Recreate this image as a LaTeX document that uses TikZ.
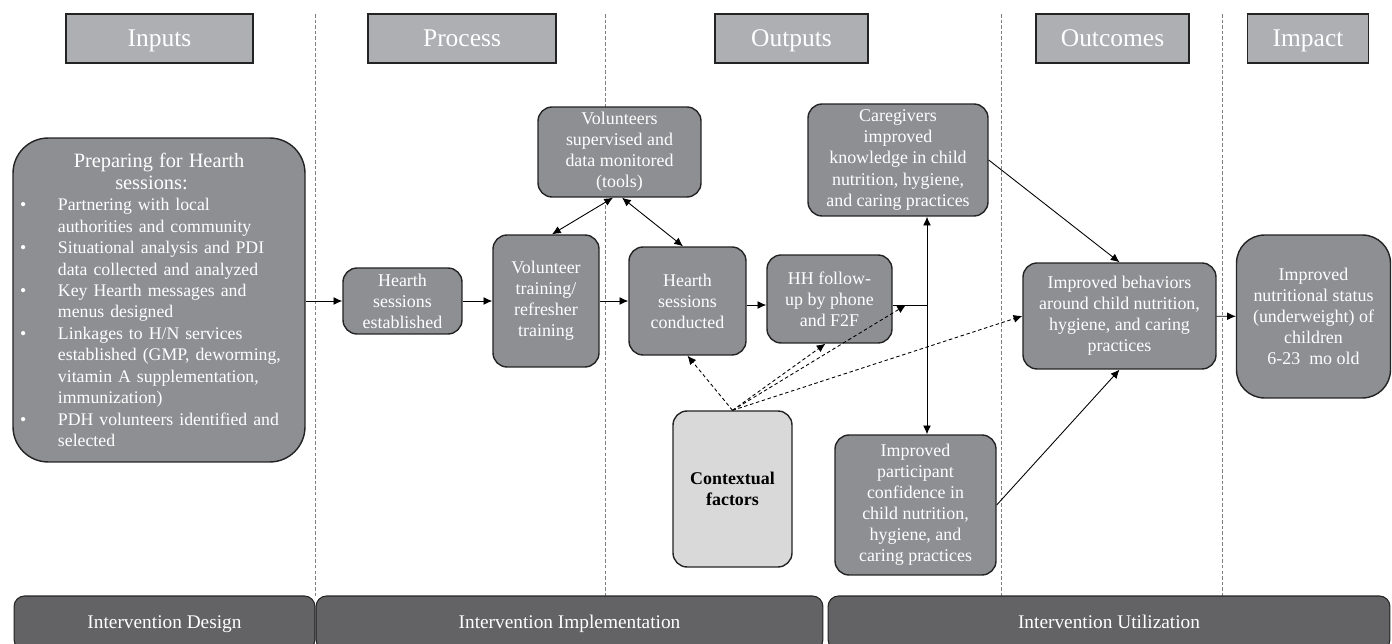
\documentclass[tikz,border=0pt]{standalone}
\usepackage{fontspec}
\setmainfont{Liberation Serif}
\usepackage{enumitem}
\usetikzlibrary{arrows.meta}

\definecolor{boxgray}{RGB}{142,143,147}
\definecolor{hdrgray}{RGB}{174,175,179}
\definecolor{bargray}{RGB}{99,99,102}
\definecolor{ctxgray}{RGB}{217,217,217}
\definecolor{edge}{RGB}{35,35,35}

\begin{document}
\begin{tikzpicture}[x=0.02cm, y=-0.02cm, >={Latex[length=5pt,width=4.5pt]},
    box/.style={draw=edge, line width=0.8pt, fill=boxgray, text=white, rounded corners=8pt,
        inner sep=0pt, align=center, font=\fontsize{10.2}{12}\selectfont},
    hdr/.style={draw=edge, line width=0.8pt, fill=hdrgray, text=white, inner sep=0pt,
        minimum width=#1, minimum height=0.98cm, text height=2.2ex, text depth=0.3ex,
        font=\fontsize{14.5}{16}\selectfont},
    bar/.style={draw=edge, line width=0.6pt, fill=bargray, text=white, rounded corners=6pt,
        minimum width=#1, minimum height=1.08cm, text height=1.7ex, text depth=0.3ex,
        font=\fontsize{11}{13}\selectfont},
    sep/.style={gray, line width=0.5pt, dash pattern=on 2pt off 1.2pt},
    flow/.style={->, line width=0.5pt},
    infl/.style={->, line width=0.5pt, dash pattern=on 2pt off 1.5pt}]
    \useasboundingbox (0,0) rectangle (1392,644);
    \clip (0,0) rectangle (1392,644);

    \foreach \xs in {315, 605, 1001, 1222}
        \draw[sep] (\xs,14) -- (\xs,596);

    \node[hdr=3.74cm] (hin) at (159.5, 38.5) {Inputs};
    \node[hdr=3.76cm] (hproc) at (462, 38.5) {Process};
    \node[hdr=3.06cm] (hout) at (791.5, 38.5) {Outputs};
    \node[hdr=3.06cm] (houtc) at (1112.5, 38.5) {Outcomes};
    \node[hdr=2.42cm] (himp) at (1308, 38.5) {Impact};

    \node[box, rounded corners=20pt, minimum width=5.84cm, minimum height=6.48cm,
        text width=5.56cm, align=left] (prep) at (159, 300)
        {{\centering\fontsize{11.6}{12.3}\selectfont Preparing for Hearth\hspace*{0.3cm}\\ sessions:\hspace*{0.3cm}\par}
        \fontsize{10.1}{12.2}\selectfont
        \begin{itemize}[label=\textbullet, labelindent=0pt, labelwidth=3.6pt, labelsep=18pt,
            leftmargin=21.6pt, topsep=0pt, partopsep=0pt, itemsep=0pt, parsep=0pt]
        \item Partnering with local\newline authorities and community
        \item Situational analysis and PDI\newline data collected and analyzed
        \item Key Hearth messages and\newline menus designed
        \item Linkages to H/N services\newline established (GMP, deworming,\newline vitamin A supplementation,\newline immunization)
        \item PDH volunteers identified and\newline selected
        \end{itemize}};

    \node[box, minimum width=2.38cm, minimum height=1.32cm] (est) at (402.5, 301) {Hearth\\ sessions\\ established};
    \node[box, minimum width=2.12cm, minimum height=2.64cm] (train) at (546, 301) {Volunteer\\ training/\\ refresher\\ training};
    \node[box, minimum width=3.26cm, minimum height=1.80cm] (sup) at (619.5, 152) {Volunteers\\ supervised and\\ data monitored\\ (tools)};
    \node[box, minimum width=2.34cm, minimum height=2.16cm] (cond) at (687.5, 301) {Hearth\\ sessions\\ conducted};
    \node[box, minimum width=2.50cm, minimum height=1.76cm] (hh) at (829.5, 299) {HH follow-\\ up by phone\\ and F2F};
    \node[box, minimum width=3.60cm, minimum height=2.24cm] (care) at (898, 160) {Caregivers\\ improved\\ knowledge in child\\ nutrition, hygiene,\\ and caring practices};
    \node[box, minimum width=3.22cm, minimum height=2.80cm] (conf) at (915.5, 505) {Improved\\ participant\\ confidence in\\ child nutrition,\\ hygiene, and\\ caring practices};
    \node[box, fill=ctxgray, text=black, minimum width=2.38cm, minimum height=3.12cm,
        font=\fontsize{10.2}{12}\selectfont\bfseries] (ctx) at (732.5, 489) {Contextual\\ factors};
    \node[box, minimum width=3.86cm, minimum height=2.12cm] (beh) at (1119.5, 316) {Improved behaviors\\ around child nutrition,\\ hygiene, and caring\\ practices};
    \node[box, rounded corners=16pt, minimum width=3.08cm, minimum height=3.26cm] (nutr) at (1313.5, 316.5) {Improved\\ nutritional status\\ (underweight) of\\ children\\ 6-23\ \ mo old};

    \node[bar=6.02cm] (design) at (164.5, 623) {Intervention Design};
    \node[bar=10.14cm] (impl) at (569.5, 623) {Intervention Implementation};
    \node[bar=11.24cm] (util) at (1109, 623) {Intervention Utilization};

    \coordinate (jn) at (927, 305);
    \coordinate (hhline) at (906, 305);

    \draw[flow] (prep.east |- est.west) -- (est.west);
    \draw[flow] (est) -- (train);
    \draw[flow] (train) -- (cond);
    \draw[flow] ([yshift=-0.08cm]cond.east) -- ([yshift=-0.08cm]cond.east -| hh.west);
    \draw[<->, line width=0.5pt] ([xshift=-0.13cm]sup.south) -- ([xshift=0.12cm]train.north);
    \draw[<->, line width=0.5pt] ([xshift=0.05cm]sup.south) -- ([xshift=-0.09cm]cond.north);
    \draw[line width=0.5pt] (hh.east |- jn) -- (jn);
    \draw[flow] (jn) -- (jn |- care.south);
    \draw[flow] (jn) -- (jn |- conf.north);
    \draw[flow] (care.east) -- (beh.north);
    \draw[flow] (conf.east) -- (beh.south);
    \draw[flow] (beh) -- (nutr);

    \draw[infl] (ctx.north) -- (cond.south);
    \draw[infl] (ctx.north) -- ([xshift=-0.08cm]hh.south);
    \draw[infl] (ctx.north) -- (hhline);
    \draw[infl] (ctx.north) -- (beh.west);
\end{tikzpicture}
\end{document}
